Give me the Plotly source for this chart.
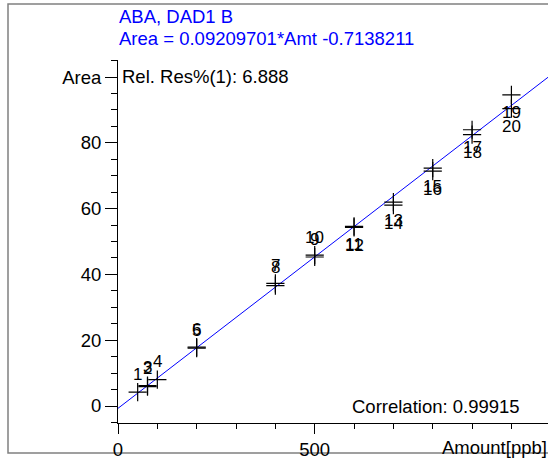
import plotly.graph_objects as go

# ---- data ----
point_labels = [str(i) for i in range(1, 21)]
amount = [50, 75, 75, 100, 200, 200, 400, 400, 500, 500,
          600, 600, 700, 700, 800, 800, 900, 900, 1000, 1000]
area = [4.2, 5.9, 6.2, 8.0, 17.6, 17.9, 37.3, 36.6, 45.3, 45.9,
        54.6, 54.3, 62.0, 61.1, 72.3, 71.4, 84.0, 82.5, 94.6, 90.4]
slope = 0.09209701
intercept = -0.7138211
fit_x = [0, 1093]
fit_y = [slope * v + intercept for v in fit_x]

title_lines = ["ABA, DAD1 B", "Area = 0.09209701*Amt -0.7138211"]
rel_res = "Rel. Res%(1): 6.888"
correlation = "Correlation: 0.99915"
y_tickvals = [0, 20, 40, 60, 80, 100]
y_ticktext = ["0", "20", "40", "60", "80", "Area"]
x_tickvals = [0, 500]
x_ticktext = ["0", "500"]
x_title = "Amount[ppb]"

FONT = "Liberation Sans, Arial, sans-serif"
W, H = 548, 462
L, R, T, B = 118, 0, 60, 39
pw, ph = W - L - R, H - T - B

def px_x(p):
    return (p - L) / pw

def px_y(p):
    return (H - B - p) / ph

fig = go.Figure()
fig.add_trace(go.Scatter(x=fit_x, y=fit_y, mode="lines",
                         line=dict(color="#0000ff", width=1), hoverinfo="skip"))
fig.add_trace(go.Scatter(x=amount, y=area, mode="markers",
                         marker=dict(symbol="cross-thin", size=13,
                                     line=dict(width=1.2, color="black"))))

annotations = []
for lab, xv, yv in zip(point_labels, amount, area):
    above = xv <= 500
    annotations.append(dict(x=xv, y=yv, xref="x", yref="y", text=lab,
                             showarrow=False, yshift=18 if above else -18,
                             font=dict(family=FONT, size=17, color="black")))

annotations += [
    dict(x=px_x(117), y=px_y(16), xref="paper", yref="paper", text=title_lines[0],
         showarrow=False, xanchor="left", yanchor="middle",
         font=dict(family=FONT, size=18.5, color="#0000ff")),
    dict(x=px_x(117), y=px_y(38), xref="paper", yref="paper", text=title_lines[1],
         showarrow=False, xanchor="left", yanchor="middle",
         font=dict(family=FONT, size=18.5, color="#0000ff")),
    dict(x=px_x(120), y=px_y(76), xref="paper", yref="paper", text=rel_res,
         showarrow=False, xanchor="left", yanchor="middle",
         font=dict(family=FONT, size=18.5, color="black")),
    dict(x=px_x(350), y=px_y(406), xref="paper", yref="paper", text=correlation,
         showarrow=False, xanchor="left", yanchor="middle",
         font=dict(family=FONT, size=18.5, color="black")),
    dict(x=px_x(440), y=px_y(448), xref="paper", yref="paper", text=x_title,
         showarrow=False, xanchor="left", yanchor="middle",
         font=dict(family=FONT, size=18.5, color="black")),
]

fig.update_layout(
    width=W, height=H, margin=dict(l=L, r=R, t=T, b=B, pad=0),
    paper_bgcolor="white", plot_bgcolor="white", showlegend=False,
    annotations=annotations,
    shapes=[dict(type="rect", xref="paper", yref="paper",
                 x0=px_x(8), x1=px_x(570), y0=px_y(453), y1=px_y(4),
                 line=dict(color="#808080", width=1.5), layer="below")],
    xaxis=dict(range=[0, 1093], showgrid=False, zeroline=False,
               showline=True, linecolor="black", linewidth=1,
               ticks="outside", ticklen=10, tickcolor="black",
               tickvals=x_tickvals, ticktext=x_ticktext,
               tickfont=dict(family=FONT, size=18.5, color="black"),
               minor=dict(dtick=100, tick0=0, ticks="outside", ticklen=5,
                          tickcolor="black", showgrid=False)),
    yaxis=dict(range=[-5.17, 105.2], showgrid=False, zeroline=False,
               showline=True, linecolor="black", linewidth=1,
               ticks="outside", ticklen=12, tickcolor="black",
               tickvals=y_tickvals, ticktext=y_ticktext,
               tickfont=dict(family=FONT, size=18.5, color="black"),
               minor=dict(dtick=5, tick0=0, ticks="outside", ticklen=6,
                          tickcolor="black", showgrid=False)),
)

fig.write_html("out.html")
